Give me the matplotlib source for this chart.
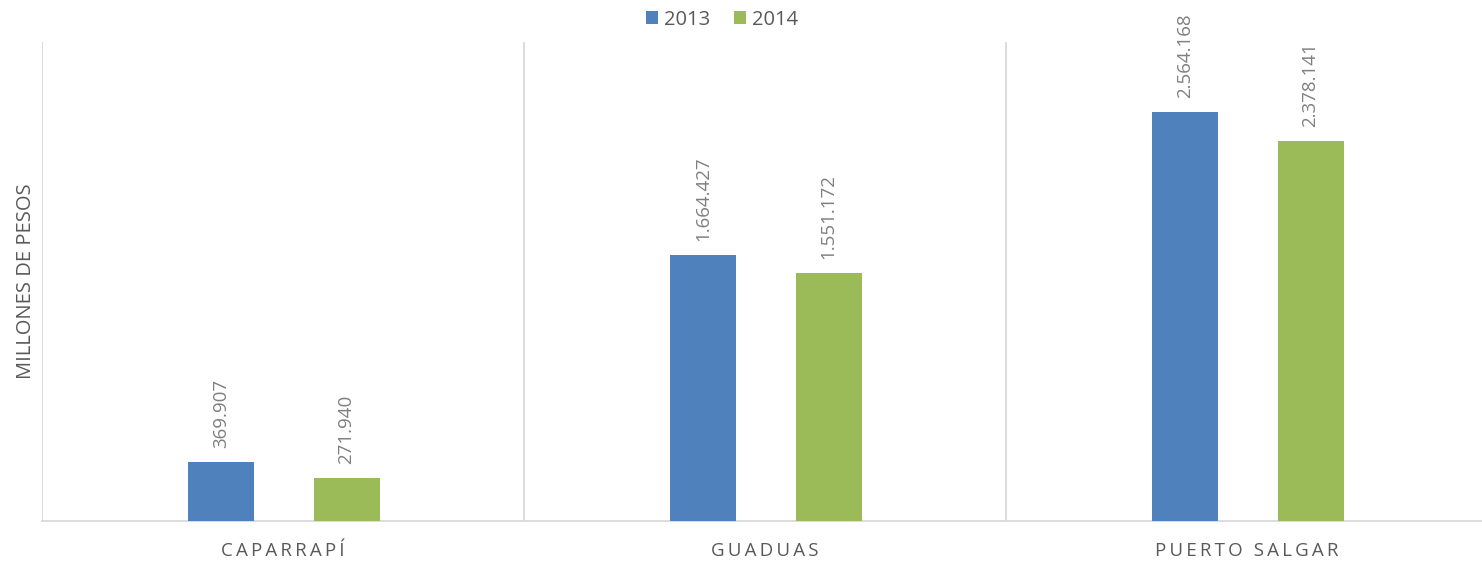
import matplotlib.pyplot as plt
import numpy as np

# Data
municipios = ["CAPARRAPÍ", "GUADUAS", "PUERTO SALGAR"]
years = ["2013", "2014"]
valores_2013 = [369907, 1664427, 2564168]
valores_2014 = [271940, 1551172, 2378141]
colores = ["#4F81BD", "#9BBB59"]

plt.rcParams['font.family'] = ['Open Sans', 'DejaVu Sans']

fig = plt.figure(figsize=(14.82, 5.61), dpi=100)
# axes box in figure fraction (pixels measured on reference)
ax = fig.add_axes([42 / 1482, 40 / 561, 1446 / 1482, 479 / 561])

x = np.arange(len(municipios))
width = 0.137
offset = 0.13

def fmt(v):
    return f"{v:,}".replace(",", ".")

for serie, color, sign, label in [(valores_2013, colores[0], -1, years[0]),
                                  (valores_2014, colores[1], 1, years[1])]:
    bars = ax.bar(x + sign * offset + 0.002, serie, width, color=color, label=label, zorder=3)
    for b, v in zip(bars, serie):
        ax.annotate(fmt(v), (b.get_x() + b.get_width() / 2, v),
                    xytext=(0, 10), textcoords="offset points",
                    rotation=90, ha="center", va="bottom",
                    fontsize=13.5, color="#7F7F7F")

ax.set_xlim(-0.5, 2.5)
ax.set_ylim(0, 3000000)

# category separators
for xs in [-0.5, 0.5, 1.5]:
    ax.axvline(xs, color="#D9D9D9", lw=1.3, zorder=1)

ax.set_yticks([])
ax.set_xticks(x)
ax.set_xticklabels(["\u2009".join(list(m)) for m in municipios],
                   fontsize=13.5, color="#595959")
ax.tick_params(axis="x", length=0, pad=15)

for s in ["top", "right", "left"]:
    ax.spines[s].set_visible(False)
ax.spines["bottom"].set_color("#D9D9D9")
ax.spines["bottom"].set_linewidth(1.3)

ax.set_ylabel("MILLONES DE PESOS", fontsize=14.5, color="#595959", labelpad=4)

fig.legend(loc="upper center", bbox_to_anchor=(722 / 1482, 1.015), ncol=2,
           frameon=False, fontsize=14.5, handlelength=0.6, handleheight=0.6,
           handletextpad=0.3, columnspacing=1.2, labelcolor="#595959")

fig.savefig("out.png", dpi=100)
